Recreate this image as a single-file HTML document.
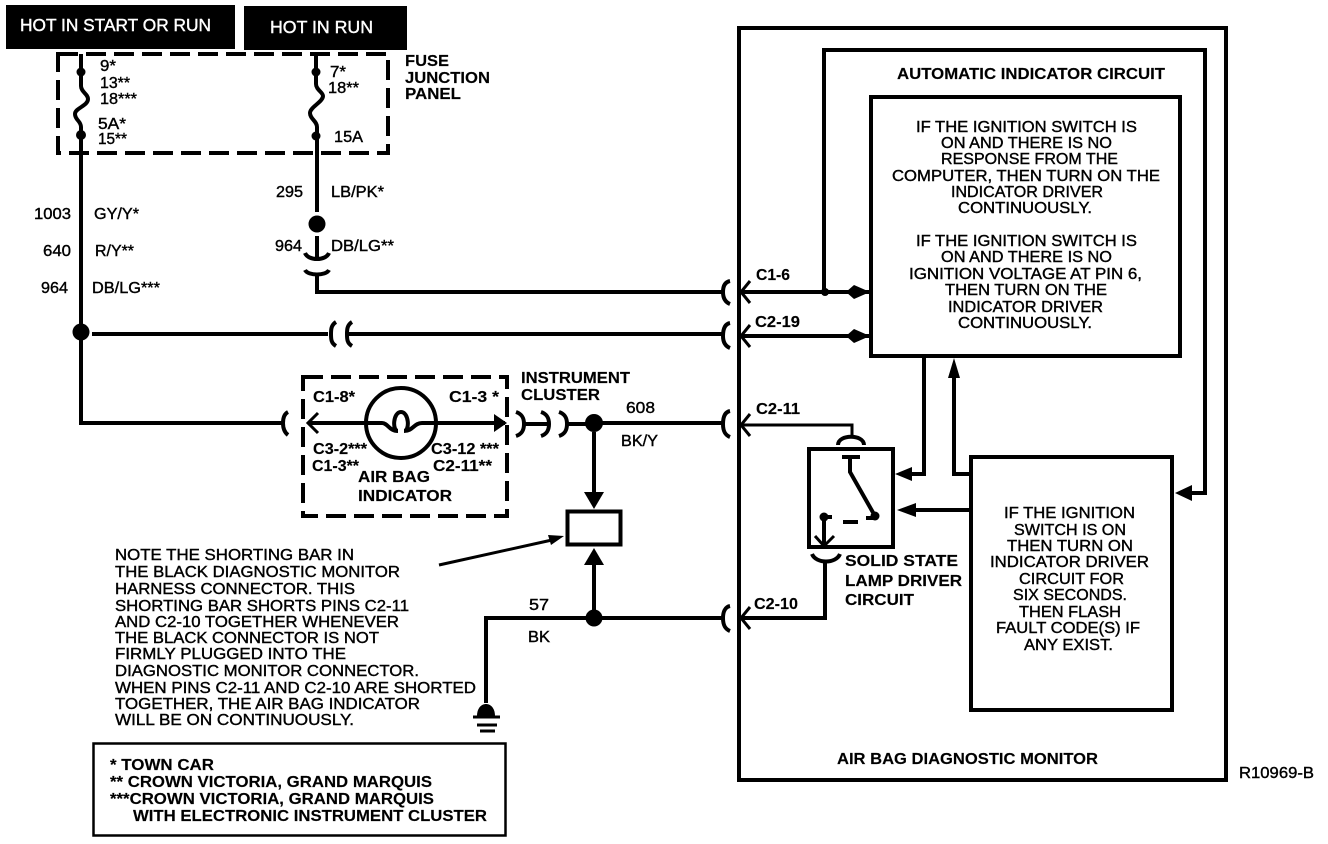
<!DOCTYPE html>
<html><head><meta charset="utf-8"><style>
html,body{margin:0;padding:0;background:#fff}
svg{display:block}
text{font-family:"Liberation Sans",sans-serif;font-size:16px;fill:#000;stroke:#000;stroke-width:.4px;dominant-baseline:auto}
.b{font-weight:bold;stroke-width:.15px}
.w{fill:#fff;stroke:#fff;font-size:17.5px}
.l{fill:none;stroke:#000;stroke-width:4}
.t{fill:none;stroke:#000;stroke-width:3}
.d{fill:#000;stroke:none}
</style></head><body>
<svg width="1328" height="844" viewBox="0 0 1328 844" xmlns="http://www.w3.org/2000/svg">
<rect width="1328" height="844" fill="#fff"/>
<rect x="6" y="5" width="229" height="44" class="d"/>
<rect x="244" y="6" width="163" height="44" class="d"/>
<text class="w" x="20" y="31" textLength="191" lengthAdjust="spacingAndGlyphs">HOT IN START OR RUN</text>
<text class="w" x="270" y="33" textLength="103" lengthAdjust="spacingAndGlyphs">HOT IN RUN</text>

<!-- fuse panel -->
<rect x="58" y="54" width="330" height="99" fill="none" stroke="#000" stroke-width="4" stroke-dasharray="20 8"/>
<path class="l" d="M81 54V86C81 92 88 94 88 99C88 106 75 108 75 114C75 120 81 121 81 127V332"/>
<path class="l" d="M316 54V84C316 90 323 92 323 96C323 102 310 107 310 113C310 119 317 121 317 127V212"/>
<circle cx="81" cy="72" r="4.5" class="d"/><circle cx="81" cy="135" r="5" class="d"/>
<circle cx="316" cy="72" r="4.5" class="d"/><circle cx="316" cy="136" r="4.5" class="d"/>
<g class="tx">
<text x="100" y="71" textLength="16" lengthAdjust="spacingAndGlyphs">9*</text>
<text x="100" y="88" textLength="30" lengthAdjust="spacingAndGlyphs">13**</text>
<text x="100" y="104" textLength="37" lengthAdjust="spacingAndGlyphs">18***</text>
<text x="98" y="129" textLength="28" lengthAdjust="spacingAndGlyphs">5A*</text>
<text x="98" y="144" textLength="29" lengthAdjust="spacingAndGlyphs">15**</text>
<text x="330" y="77" textLength="16" lengthAdjust="spacingAndGlyphs">7*</text>
<text x="328" y="93" textLength="31" lengthAdjust="spacingAndGlyphs">18**</text>
<text x="334" y="142" textLength="29" lengthAdjust="spacingAndGlyphs">15A</text>
</g>
<text class="b" x="405" y="66" textLength="44" lengthAdjust="spacingAndGlyphs">FUSE</text>
<text class="b" x="405" y="83" textLength="85" lengthAdjust="spacingAndGlyphs">JUNCTION</text>
<text class="b" x="405" y="99" textLength="56" lengthAdjust="spacingAndGlyphs">PANEL</text>

<!-- wire labels -->
<text x="34" y="219" textLength="37" lengthAdjust="spacingAndGlyphs">1003</text>
<text x="94" y="219" textLength="45" lengthAdjust="spacingAndGlyphs">GY/Y*</text>
<text x="43" y="256" textLength="28" lengthAdjust="spacingAndGlyphs">640</text>
<text x="95" y="256" textLength="39" lengthAdjust="spacingAndGlyphs">R/Y**</text>
<text x="41" y="293" textLength="27" lengthAdjust="spacingAndGlyphs">964</text>
<text x="92" y="293" textLength="68" lengthAdjust="spacingAndGlyphs">DB/LG***</text>
<text x="276" y="197" textLength="27" lengthAdjust="spacingAndGlyphs">295</text>
<text x="331" y="197" textLength="53" lengthAdjust="spacingAndGlyphs">LB/PK*</text>
<text x="275" y="251" textLength="27" lengthAdjust="spacingAndGlyphs">964</text>
<text x="331" y="251" textLength="63" lengthAdjust="spacingAndGlyphs">DB/LG**</text>

<circle cx="317" cy="224" r="8.5" class="d"/>
<path class="l" d="M317 236V257"/>
<path class="l" d="M305 253C308 261 326 261 329 253"/>
<path class="l" d="M305 270C308 276 326 276 329 270"/>
<path class="l" d="M317 275V292H722"/>
<path class="l" d="M730 281C725 282 723 286 723 292C723 298 725 302 730 304"/>

<circle cx="81" cy="332" r="8.5" class="d"/>
<path class="l" d="M92 334H328"/>
<path class="l" d="M336 322C331 325 331 330 331 334C331 339 331 343 336 346"/>
<path class="l" d="M352 322C347 325 347 330 347 334C347 339 347 343 352 346"/>
<path class="l" d="M347 334H722"/>
<path class="l" d="M730 323C725 324 723 329 723 336C723 342 725 346 730 348"/>

<path class="l" d="M81 340V423H284"/>
<path class="l" d="M288 412C284 414 283 418 283 423C283 428 284 432 288 435"/>

<!-- air bag indicator -->
<rect x="303" y="377" width="204" height="139" fill="none" stroke="#000" stroke-width="4" stroke-dasharray="20 8"/>
<circle cx="401" cy="423" r="35" class="l"/>
<path class="l" d="M309 423H382C388 423 389 431 398 431C392 431 393 412 401 412C409 412 410 431 404 431C413 431 414 423 422 423H505"/>
<path class="t" d="M318 413L308 423L318 433"/>
<path class="d" d="M507 423L494 414V432Z"/>
<text class="b" x="313" y="402" textLength="42" lengthAdjust="spacingAndGlyphs">C1-8*</text>
<text class="b" x="449" y="402" textLength="50" lengthAdjust="spacingAndGlyphs">C1-3 *</text>
<text class="b" x="313" y="454" textLength="54" lengthAdjust="spacingAndGlyphs">C3-2***</text>
<text class="b" x="431" y="454" textLength="68" lengthAdjust="spacingAndGlyphs">C3-12 ***</text>
<text class="b" x="312" y="471" textLength="47" lengthAdjust="spacingAndGlyphs">C1-3**</text>
<text class="b" x="433" y="471" textLength="59" lengthAdjust="spacingAndGlyphs">C2-11**</text>
<text class="b" x="358" y="482" textLength="72" lengthAdjust="spacingAndGlyphs">AIR BAG</text>
<text class="b" x="358" y="501" textLength="94" lengthAdjust="spacingAndGlyphs">INDICATOR</text>
<text class="b" x="521" y="383" textLength="109" lengthAdjust="spacingAndGlyphs">INSTRUMENT</text>
<text class="b" x="521" y="400" textLength="79" lengthAdjust="spacingAndGlyphs">CLUSTER</text>

<path class="l" d="M516 412C522 414 524 418 524 424C524 430 522 434 516 436"/>
<path class="l" d="M524 424H547"/>
<path class="l" d="M541 412C547 414 549 418 549 424C549 430 547 434 541 436"/>
<path class="l" d="M559 412C565 414 567 418 567 424C567 430 565 434 559 436"/>
<path class="l" d="M567 424H586"/>
<circle cx="594" cy="423" r="9" class="d"/>
<path class="l" d="M602 423H722"/>
<path class="l" d="M730 411C725 412 723 417 723 424C723 431 725 435 730 437"/>
<text x="626" y="413" textLength="29" lengthAdjust="spacingAndGlyphs">608</text>
<text x="621" y="446" textLength="37" lengthAdjust="spacingAndGlyphs">BK/Y</text>

<path class="l" d="M594 432V495"/>
<path class="d" d="M594 509L584 492H604Z"/>
<rect x="567.5" y="511.5" width="53" height="33" class="l"/>
<path class="l" d="M594 610V563"/>
<path class="d" d="M594 548L584 565H604Z"/>
<circle cx="594" cy="618" r="8.5" class="d"/>
<path class="l" d="M586 618H486V703"/>
<path class="l" d="M602 618H722"/>
<path class="l" d="M730 606C725 607 723 612 723 618C723 625 725 629 730 631"/>
<text x="529" y="610" textLength="20" lengthAdjust="spacingAndGlyphs">57</text>
<text x="528" y="642" textLength="22" lengthAdjust="spacingAndGlyphs">BK</text>

<!-- ground -->
<path class="d" d="M477 716C477 700 495 700 495 716Z"/>
<path class="t" d="M473 717H500M477 725H497"/><path class="t" d="M480 731H495" stroke-width="2"/>

<!-- note -->
<path class="t" d="M439 565L552 540"/>
<path class="d" d="M564 536L548 535L551 545Z"/>
<text x="115" y="560" textLength="239" lengthAdjust="spacingAndGlyphs">NOTE THE SHORTING BAR IN</text>
<text x="115" y="577" textLength="285" lengthAdjust="spacingAndGlyphs">THE BLACK DIAGNOSTIC MONITOR</text>
<text x="115" y="594" textLength="240" lengthAdjust="spacingAndGlyphs">HARNESS CONNECTOR. THIS</text>
<text x="115" y="611" textLength="294" lengthAdjust="spacingAndGlyphs">SHORTING BAR SHORTS PINS C2-11</text>
<text x="115" y="627" textLength="284" lengthAdjust="spacingAndGlyphs">AND C2-10 TOGETHER WHENEVER</text>
<text x="115" y="643" textLength="264" lengthAdjust="spacingAndGlyphs">THE BLACK CONNECTOR IS NOT</text>
<text x="115" y="659" textLength="231" lengthAdjust="spacingAndGlyphs">FIRMLY PLUGGED INTO THE</text>
<text x="115" y="676" textLength="304" lengthAdjust="spacingAndGlyphs">DIAGNOSTIC MONITOR CONNECTOR.</text>
<text x="115" y="693" textLength="361" lengthAdjust="spacingAndGlyphs">WHEN PINS C2-11 AND C2-10 ARE SHORTED</text>
<text x="115" y="709" textLength="305" lengthAdjust="spacingAndGlyphs">TOGETHER, THE AIR BAG INDICATOR</text>
<text x="115" y="725" textLength="239" lengthAdjust="spacingAndGlyphs">WILL BE ON CONTINUOUSLY.</text>

<rect x="93.5" y="743.5" width="412" height="92" fill="none" stroke="#000" stroke-width="2.5"/>
<text class="b" x="110" y="770" textLength="104" lengthAdjust="spacingAndGlyphs">* TOWN CAR</text>
<text class="b" x="110" y="787" textLength="322" lengthAdjust="spacingAndGlyphs">** CROWN VICTORIA, GRAND MARQUIS</text>
<text class="b" x="110" y="804" textLength="324" lengthAdjust="spacingAndGlyphs">***CROWN VICTORIA, GRAND MARQUIS</text>
<text class="b" x="133" y="821" textLength="354" lengthAdjust="spacingAndGlyphs">WITH ELECTRONIC INSTRUMENT CLUSTER</text>

<!-- monitor -->
<rect x="739" y="28" width="487" height="752" class="l"/>
<path class="l" d="M824 292V50H1205V493H1190"/>
<path class="d" d="M1175 493L1192 485V501Z"/>
<rect x="871" y="97" width="309" height="259" class="l"/>
<rect x="971" y="457" width="201" height="253" class="l"/>
<text class="b" x="897" y="79" textLength="268" lengthAdjust="spacingAndGlyphs">AUTOMATIC INDICATOR CIRCUIT</text>
<text class="b" x="837" y="764" textLength="261" lengthAdjust="spacingAndGlyphs">AIR BAG DIAGNOSTIC MONITOR</text>
<text x="1239" y="778" textLength="75" lengthAdjust="spacingAndGlyphs">R10969-B</text>

<text x="916" y="132" textLength="221" lengthAdjust="spacingAndGlyphs">IF THE IGNITION SWITCH IS</text>
<text x="941" y="148" textLength="171" lengthAdjust="spacingAndGlyphs">ON AND THERE IS NO</text>
<text x="941" y="164" textLength="177" lengthAdjust="spacingAndGlyphs">RESPONSE FROM THE</text>
<text x="892" y="181" textLength="268" lengthAdjust="spacingAndGlyphs">COMPUTER, THEN TURN ON THE</text>
<text x="951" y="197" textLength="152" lengthAdjust="spacingAndGlyphs">INDICATOR DRIVER</text>
<text x="958" y="213" textLength="134" lengthAdjust="spacingAndGlyphs">CONTINUOUSLY.</text>
<text x="916" y="246" textLength="221" lengthAdjust="spacingAndGlyphs">IF THE IGNITION SWITCH IS</text>
<text x="941" y="262" textLength="171" lengthAdjust="spacingAndGlyphs">ON AND THERE IS NO</text>
<text x="909" y="279" textLength="233" lengthAdjust="spacingAndGlyphs">IGNITION VOLTAGE AT PIN 6,</text>
<text x="945" y="295" textLength="162" lengthAdjust="spacingAndGlyphs">THEN TURN ON THE</text>
<text x="948" y="312" textLength="155" lengthAdjust="spacingAndGlyphs">INDICATOR DRIVER</text>
<text x="958" y="328" textLength="134" lengthAdjust="spacingAndGlyphs">CONTINUOUSLY.</text>

<text x="1004" y="518" textLength="131" lengthAdjust="spacingAndGlyphs">IF THE IGNITION</text>
<text x="1014" y="535" textLength="112" lengthAdjust="spacingAndGlyphs">SWITCH IS ON</text>
<text x="1007" y="551" textLength="126" lengthAdjust="spacingAndGlyphs">THEN TURN ON</text>
<text x="990" y="567" textLength="159" lengthAdjust="spacingAndGlyphs">INDICATOR DRIVER</text>
<text x="1019" y="584" textLength="105" lengthAdjust="spacingAndGlyphs">CIRCUIT FOR</text>
<text x="1013" y="600" textLength="114" lengthAdjust="spacingAndGlyphs">SIX SECONDS.</text>
<text x="1019" y="617" textLength="102" lengthAdjust="spacingAndGlyphs">THEN FLASH</text>
<text x="996" y="633" textLength="144" lengthAdjust="spacingAndGlyphs">FAULT CODE(S) IF</text>
<text x="1024" y="650" textLength="89" lengthAdjust="spacingAndGlyphs">ANY EXIST.</text>

<!-- pin arrows -->
<path class="l" d="M742 292H871"/><path class="l" d="M742 336H871"/>
<path class="t" d="M750 281L741 292L750 303M750 325L741 336L750 347"/>
<path class="d" d="M870 292L854 285L846 292L854 299Z"/><path class="d" d="M870 336L854 329L846 336L854 343Z"/>
<circle cx="825" cy="292" r="4" class="d"/>
<text class="b" x="756" y="280" textLength="34" lengthAdjust="spacingAndGlyphs">C1-6</text>
<text class="b" x="755" y="327" textLength="45" lengthAdjust="spacingAndGlyphs">C2-19</text>
<text class="b" x="756" y="414" textLength="44" lengthAdjust="spacingAndGlyphs">C2-11</text>
<text class="b" x="754" y="609" textLength="44" lengthAdjust="spacingAndGlyphs">C2-10</text>

<path class="t" d="M742 425H852V435"/>
<path class="t" d="M750 414L741 425L750 436M750 607L741 618L750 629"/>
<path class="l" d="M742 618H825V562"/>

<!-- lamp driver -->
<rect x="809" y="449" width="84" height="98" class="l"/>
<path class="l" d="M838 445C838 434 864 434 864 445"/>
<path class="l" d="M812 554C816 564 836 564 840 554"/>
<path class="l" d="M850 457V472L875 516"/>
<path class="l" d="M842 457H860"/>
<path class="l" d="M824 517H832M843 522H858M866 518H875"/>
<path class="l" d="M824 517V545"/>
<path class="t" d="M815 536L824 546L834 536"/>
<circle cx="824" cy="517" r="4.5" class="d"/><circle cx="875" cy="516" r="4.5" class="d"/>
<path class="l" d="M924 357V474H905"/>
<path class="d" d="M895 474L912 467V481Z"/>
<path class="l" d="M954 373V474H971"/>
<path class="d" d="M954 358L948 378H960Z"/>
<path class="l" d="M971 510H910"/>
<path class="d" d="M897 510L916 503V517Z"/>
<text class="b" x="845" y="566" textLength="113" lengthAdjust="spacingAndGlyphs">SOLID STATE</text>
<text class="b" x="845" y="586" textLength="117" lengthAdjust="spacingAndGlyphs">LAMP DRIVER</text>
<text class="b" x="845" y="605" textLength="69" lengthAdjust="spacingAndGlyphs">CIRCUIT</text>
</svg>
</body></html>
